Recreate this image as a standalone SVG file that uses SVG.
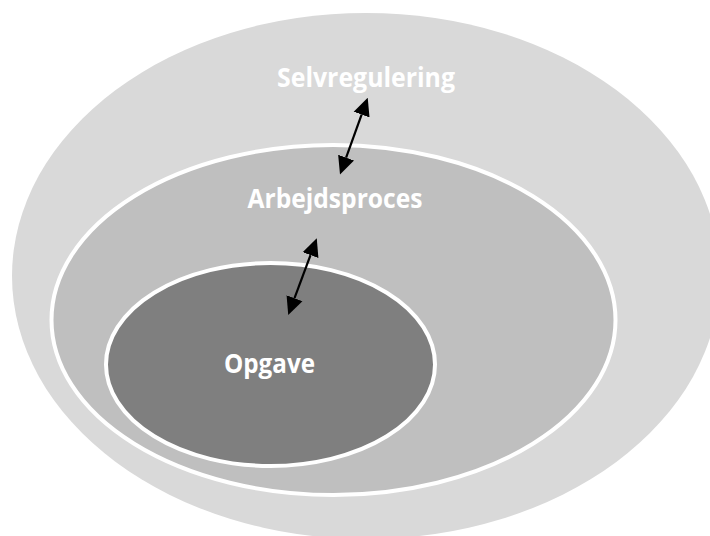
<svg xmlns="http://www.w3.org/2000/svg" width="710" height="536" viewBox="0 0 710 536">
  <style>
    .lbl { font-family: "Open Sans", "Noto Sans", "Liberation Sans", sans-serif; font-weight: 700; font-size: 26.5px; fill: #ffffff; text-anchor: middle; }
    .ring { stroke: #ffffff; stroke-width: 4; }
    .conn { stroke: #000000; stroke-width: 2.2; fill: none; marker-start: url(#head); marker-end: url(#head); }
  </style>
  <defs>
    <marker id="head" markerUnits="userSpaceOnUse" markerWidth="18" markerHeight="18" viewBox="0 -8 16 16" refX="0" refY="0" orient="auto-start-reverse">
      <path d="M0,-7.5 L16,0 L0,7.5 Z" fill="#000000"/>
    </marker>
  </defs>
  <rect width="710" height="536" fill="#ffffff"/>
  <g id="selvregulering">
    <ellipse cx="366" cy="276" rx="354" ry="263" fill="#d9d9d9"/>
    <text class="lbl" x="366" y="87" textLength="178" lengthAdjust="spacingAndGlyphs">Selvregulering</text>
  </g>
  <g id="arbejdsproces">
    <ellipse class="ring" cx="333.5" cy="320" rx="282" ry="175" fill="#bfbfbf"/>
    <text class="lbl" x="335" y="207.5" textLength="175" lengthAdjust="spacingAndGlyphs">Arbejdsproces</text>
  </g>
  <g id="opgave">
    <ellipse class="ring" cx="270.5" cy="364.5" rx="164.5" ry="101.5" fill="#7f7f7f"/>
    <text class="lbl" x="269.5" y="373" textLength="91" lengthAdjust="spacingAndGlyphs">Opgave</text>
  </g>
  <g id="connectors">
    <line class="conn" x1="346.1" y1="157.6" x2="361.6" y2="114.6"/>
    <line class="conn" x1="294.5" y1="298.2" x2="310.5" y2="255.1"/>
  </g>
</svg>
